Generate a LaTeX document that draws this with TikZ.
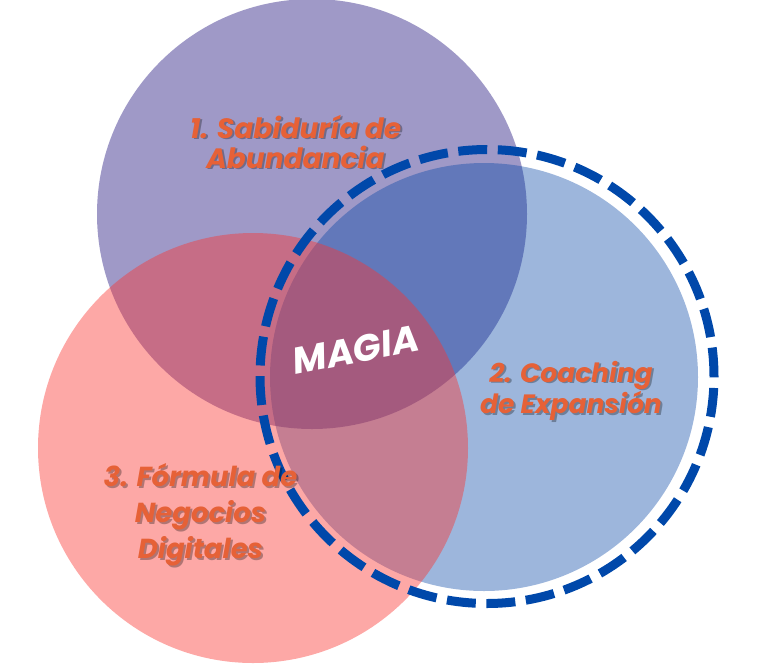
\documentclass[tikz,border=0pt]{standalone}
\usepackage{fontspec}
\setmainfont{Poppins}
\definecolor{purplebase}{RGB}{63,51,143}
\definecolor{bluebase}{RGB}{10,72,167}
\definecolor{redbase}{RGB}{251,53,49}
\definecolor{dashblue}{RGB}{0,72,170}
\definecolor{lblorange}{RGB}{230,97,55}
\tikzset{
  lbl/.style={text=lblorange, align=center, inner sep=0pt},
  lblshadow/.style={lbl, text=black, text opacity=0.3},
  fontA/.style={font=\fontsize{28}{30}\selectfont\bfseries\itshape},
  fontB/.style={font=\fontsize{26.5}{31.5}\selectfont\bfseries\itshape},
  fontC/.style={font=\fontsize{27.5}{36}\selectfont\bfseries\itshape},
  magic/.style={font=\fontsize{37}{40}\selectfont\bfseries\itshape, text=white, inner sep=0pt, rotate=11},
}
\begin{document}
\begin{tikzpicture}[x=1pt,y=-1pt]
\useasboundingbox (0,0) rectangle (760,665);
\coordinate (cP) at (312,214);
\coordinate (cB) at (484,377);
\coordinate (cR) at (253,448);
\coordinate (cD) at (487,376.5);
\fill[purplebase, fill opacity=0.5] (cP) circle (215pt);
\fill[bluebase, fill opacity=0.4] (cB) circle (214pt);
\fill[redbase, fill opacity=0.43] (cR) circle (215pt);
\draw[dashblue, line width=9pt, dash pattern=on 29pt off 10.6pt] (cD) circle (227pt);
% labels
\node[lblshadow, fontA] (s1) at (297.5,143) {1. Sabiduría de\\Abundancia};
\node[lbl, fontA] (t1) at (295.5,141.5) {1. Sabiduría de\\Abundancia};
\node[lblshadow, fontB] (s2) at (573,392.5) {2. Coaching\\de Expansión};
\node[lbl, fontB] (t2) at (571,391) {2. Coaching\\de Expansión};
\node[lblshadow, fontC] (s3) at (202.5,516.5) {3. Fórmula de\\Negocios\\Digitales};
\node[lbl, fontC] (t3) at (200.5,515) {3. Fórmula de\\Negocios\\Digitales};
\node[magic] (m) at (356,350) {MAGIA};
\end{tikzpicture}
\end{document}
